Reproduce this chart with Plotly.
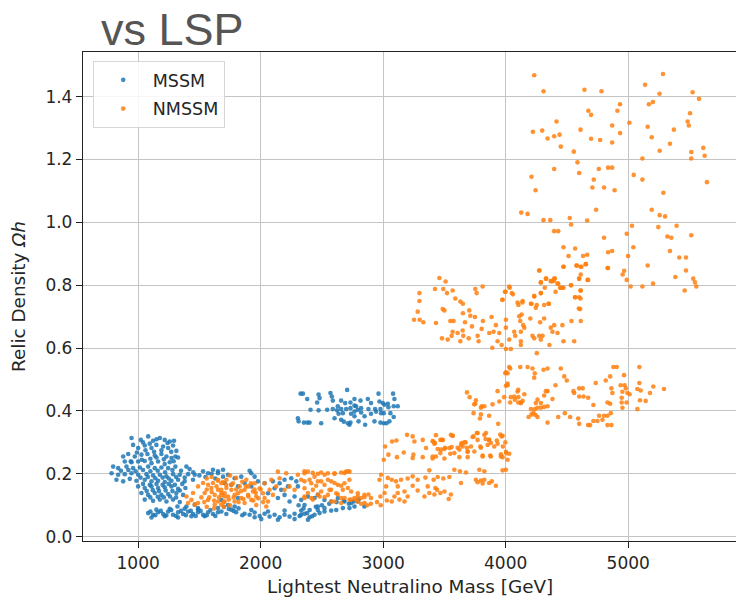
import plotly.graph_objects as go

# ---------------- MSSM scan points: (LSP mass [GeV], relic density) ----------------
mssm_upper_blob = [
    (946, 0.314), (1022, 0.308), (1082, 0.319), (1122, 0.305), (1177, 0.314), (1217, 0.308),
    (1258, 0.303), (1293, 0.305), (959, 0.292), (1000, 0.282), (1054, 0.290), (1109, 0.282),
    (1149, 0.292), (1204, 0.287), (1245, 0.282), (1285, 0.290), (1312, 0.273), (1304, 0.255),
    (878, 0.255), (919, 0.263), (973, 0.255), (1027, 0.261), (1076, 0.263), (1136, 0.258),
    (1190, 0.263), (1231, 0.255), (1272, 0.250), (1326, 0.252), (891, 0.239), (946, 0.237),
    (1000, 0.239), (1054, 0.241), (1109, 0.234), (1163, 0.239), (1217, 0.231), (1258, 0.237),
    (796, 0.223), (837, 0.218), (905, 0.223), (959, 0.218), (1014, 0.220), (1082, 0.223),
    (1136, 0.218), (1190, 0.220), (1245, 0.218), (1304, 0.223), (1394, 0.223), (783, 0.202),
    (837, 0.197), (891, 0.199), (946, 0.202), (1000, 0.197), (1068, 0.199), (1122, 0.195),
    (1177, 0.197), (1231, 0.192), (1285, 0.199), (1340, 0.197), (1408, 0.199), (1462, 0.197),
    (1530, 0.208), (1571, 0.202), (823, 0.181), (878, 0.176), (932, 0.184), (986, 0.178),
    (1054, 0.181), (1109, 0.176), (1163, 0.178), (1217, 0.174), (1272, 0.178), (1326, 0.181),
    (1380, 0.176), (1448, 0.181), (1000, 0.160), (1054, 0.155), (1109, 0.160), (1163, 0.155),
    (1217, 0.157), (1272, 0.160), (1326, 0.152), (1386, 0.155), (1027, 0.139), (1082, 0.133),
    (1136, 0.139), (1190, 0.133), (1245, 0.136), (1312, 0.139), (1367, 0.133), (1054, 0.118),
    (1122, 0.114), (1177, 0.118), (1231, 0.112), (1285, 0.118), (1340, 0.110), (1321, 0.096),
    (1394, 0.096), (1462, 0.102), (1489, 0.091), (1611, 0.213), (1652, 0.208), (1693, 0.213),
    (1040, 0.300), (1095, 0.296), (1150, 0.310), (1240, 0.298), (1270, 0.270), (1190, 0.275),
    (1130, 0.270), (1060, 0.275), (990, 0.268), (940, 0.240), (1030, 0.245), (1100, 0.248),
    (1150, 0.252), (1210, 0.246), (1290, 0.240), (860, 0.210), (920, 0.212), (980, 0.208),
    (1040, 0.212), (1100, 0.208), (1160, 0.210), (1220, 0.205), (1280, 0.212), (1350, 0.210),
    (1420, 0.215), (1020, 0.188), (1080, 0.190), (1140, 0.186), (1200, 0.188), (1250, 0.185),
    (1310, 0.190), (1380, 0.188), (1040, 0.168), (1095, 0.165), (1150, 0.168), (1200, 0.165),
    (1250, 0.168), (1300, 0.165), (1360, 0.168), (1070, 0.145), (1120, 0.148), (1170, 0.145),
    (1225, 0.147), (1280, 0.145), (1340, 0.147), (1100, 0.125), (1160, 0.127), (1210, 0.125),
    (1260, 0.128), (1310, 0.125), (1450, 0.205), (1500, 0.195), (1550, 0.190), (1600, 0.200),
    (1630, 0.185),
]

mssm_low_band = [
    (1082, 0.075), (1122, 0.070), (1163, 0.078), (1204, 0.072), (1245, 0.080), (1285, 0.070),
    (1326, 0.078), (1367, 0.072), (1408, 0.080), (1448, 0.072), (1489, 0.078), (1530, 0.070),
    (1571, 0.078), (1611, 0.072), (1109, 0.061), (1217, 0.065), (1326, 0.061), (1435, 0.065),
    (1543, 0.065), (1652, 0.078), (1149, 0.086), (1258, 0.089), (1380, 0.089), (1489, 0.086),
    (1100, 0.080), (1140, 0.068), (1185, 0.082), (1230, 0.068), (1270, 0.085), (1310, 0.066),
    (1350, 0.082), (1390, 0.068), (1430, 0.082), (1470, 0.066), (1510, 0.082), (1560, 0.068),
    (1590, 0.085), (1630, 0.066), (1680, 0.080), (1720, 0.072), (1760, 0.086), (1800, 0.078),
    (1700, 0.095), (1740, 0.088), (1780, 0.082), (1820, 0.090), (1850, 0.068),
    (1869, 0.073), (1910, 0.070), (1951, 0.077), (1992, 0.066), (2032, 0.073), (2073, 0.064),
    (2114, 0.070), (2155, 0.062), (2195, 0.070), (2236, 0.064), (2277, 0.073), (2318, 0.066),
    (2358, 0.073), (2399, 0.062), (2440, 0.070), (2481, 0.075), (2521, 0.080), (2576, 0.083),
    (2617, 0.085), (2671, 0.091), (2725, 0.091), (2766, 0.096), (1924, 0.085), (2060, 0.080),
    (2195, 0.083), (2331, 0.083), (2467, 0.085), (2005, 0.056), (2141, 0.054), (2277, 0.056),
    (2386, 0.054), (1951, 0.062), (2310, 0.100), (2350, 0.090), (2400, 0.085), (2450, 0.095),
    (2500, 0.100), (2560, 0.105), (2620, 0.110), (2680, 0.115), (2720, 0.105), (2760, 0.112),
    (2800, 0.118), (2330, 0.070), (2380, 0.075), (2420, 0.065),
]

mssm_mid_band = [
    (1652, 0.202), (1693, 0.191), (1734, 0.197), (1788, 0.186), (1842, 0.191), (1910, 0.210),
    (1924, 0.202), (1951, 0.191), (1706, 0.170), (1761, 0.165), (1815, 0.160), (1869, 0.170),
    (1924, 0.160), (1978, 0.176), (2032, 0.170), (2100, 0.176), (2155, 0.170), (2195, 0.181),
    (2223, 0.160), (2168, 0.149), (2250, 0.186), (2291, 0.176), (2304, 0.160), (2195, 0.133),
    (2141, 0.123), (2236, 0.112), (2277, 0.128), (2331, 0.117), (2386, 0.128), (2440, 0.123),
    (2467, 0.133), (2521, 0.117), (2576, 0.112), (2630, 0.123), (2684, 0.112), (2739, 0.107),
    (2793, 0.112), (2847, 0.096), (1679, 0.117), (1734, 0.101), (1788, 0.096), (1652, 0.091),
    (1815, 0.123), (2060, 0.138), (2114, 0.154), (2358, 0.101), (2467, 0.096), (2521, 0.091),
]

mssm_heavy_cluster = [
    (2326, 0.455), (2345, 0.455), (2380, 0.438), (2473, 0.452), (2481, 0.441), (2461, 0.427),
    (2570, 0.457), (2581, 0.446), (2589, 0.433), (2706, 0.467), (2657, 0.433), (2690, 0.425),
    (2733, 0.427), (2766, 0.438), (2815, 0.433), (2875, 0.438), (2901, 0.425), (2962, 0.455),
    (2970, 0.430), (2997, 0.425), (3038, 0.423), (3081, 0.455), (3092, 0.438), (3119, 0.415),
    (3086, 0.415), (3043, 0.412), (3011, 0.420), (3059, 0.393), (3005, 0.393), (2978, 0.406),
    (2934, 0.406), (2880, 0.406), (2820, 0.409), (2766, 0.417), (2733, 0.409), (2698, 0.406),
    (2657, 0.406), (2624, 0.402), (2589, 0.406), (2543, 0.404), (2473, 0.402), (2407, 0.404),
    (2636, 0.391), (2671, 0.393), (2738, 0.391), (2766, 0.383), (2820, 0.395), (2848, 0.383),
    (2901, 0.391), (2942, 0.398), (2983, 0.393), (2304, 0.377), (2310, 0.367), (2353, 0.363),
    (2380, 0.363), (2399, 0.363), (2494, 0.361), (2603, 0.377), (2657, 0.372), (2679, 0.366),
    (2712, 0.361), (2733, 0.363), (2725, 0.356), (2799, 0.367), (2853, 0.356), (2929, 0.367),
    (2978, 0.363), (3005, 0.361), (3027, 0.361), (3051, 0.367), (3086, 0.381), (2766, 0.398),
    (2793, 0.404), (2630, 0.415), (2779, 0.415),
]

# ---------------- NMSSM scan points ----------------
nmssm_light = [
    (1394, 0.128), (1435, 0.117), (1462, 0.102), (1489, 0.107), (1516, 0.125), (1543, 0.139),
    (1571, 0.117), (1598, 0.155), (1625, 0.133), (1652, 0.112), (1679, 0.149), (1706, 0.128),
    (1720, 0.165), (1489, 0.160), (1530, 0.171), (1571, 0.165), (1611, 0.171), (1652, 0.178),
    (1693, 0.174), (1408, 0.107), (1448, 0.139), (1625, 0.102), (1679, 0.102),
    (1560, 0.185), (1600, 0.190), (1750, 0.195), (1800, 0.187), (1850, 0.175), (1900, 0.160),
    (1950, 0.150), (1560, 0.095), (1620, 0.090), (1700, 0.095), (1750, 0.100),
    (1540, 0.110), (1580, 0.125), (1620, 0.115), (1660, 0.125), (1700, 0.110), (1740, 0.118),
    (1780, 0.125), (1820, 0.110), (1860, 0.120), (1900, 0.128), (1940, 0.115), (1980, 0.122),
    (2020, 0.110), (1560, 0.150), (1600, 0.142), (1640, 0.160), (1680, 0.140), (1720, 0.155),
    (1760, 0.165), (1800, 0.150), (1840, 0.145), (1880, 0.160), (1920, 0.170), (1960, 0.140),
    (2000, 0.150),
    (1652, 0.149), (1679, 0.133), (1706, 0.138), (1734, 0.128), (1761, 0.149), (1788, 0.133),
    (1815, 0.138), (1842, 0.123), (1869, 0.149), (1897, 0.133), (1924, 0.117), (1937, 0.144),
    (1964, 0.128), (1992, 0.154), (2019, 0.138), (2032, 0.123), (2060, 0.112), (2073, 0.149),
    (2100, 0.133), (2127, 0.160), (2155, 0.186), (2141, 0.207), (2209, 0.202), (2304, 0.197),
    (2358, 0.202), (2386, 0.207), (2440, 0.191), (2494, 0.204), (2549, 0.202), (2603, 0.202),
    (2657, 0.204), (2698, 0.207), (2725, 0.207), (2331, 0.181), (2413, 0.170), (2467, 0.176),
    (2521, 0.165), (2576, 0.176), (2630, 0.165), (2684, 0.170), (2725, 0.181), (2277, 0.149),
    (2358, 0.154), (2426, 0.149), (2494, 0.144), (2562, 0.149), (2617, 0.138), (2671, 0.149),
    (2739, 0.144), (2793, 0.138), (2847, 0.133), (2358, 0.128), (2413, 0.123), (2481, 0.128),
    (2549, 0.133), (2603, 0.112), (2657, 0.123), (2725, 0.117), (2780, 0.117), (2820, 0.123),
    (2195, 0.149), (2236, 0.160), (1679, 0.170), (1720, 0.181), (1774, 0.170), (1829, 0.160),
    (1883, 0.181), (1951, 0.170), (2032, 0.170), (2087, 0.181), (1652, 0.181), (1706, 0.112),
    (1788, 0.112), (1869, 0.107), (1964, 0.101), (2046, 0.096),
    (2358, 0.208), (2426, 0.203), (2467, 0.200), (2522, 0.197), (2603, 0.200), (2685, 0.203),
    (2712, 0.208), (2358, 0.176), (2399, 0.181), (2453, 0.162), (2494, 0.176), (2549, 0.181),
    (2603, 0.171), (2657, 0.162), (2712, 0.155), (2575, 0.149), (2386, 0.139), (2467, 0.134),
    (2522, 0.126), (2630, 0.134), (2358, 0.123), (2426, 0.118), (2575, 0.112), (2657, 0.107),
    (2793, 0.112), (2848, 0.107),
]

nmssm_mid_band = [
    (3073, 0.303), (3108, 0.306), (3016, 0.287), (3005, 0.245), (3043, 0.261), (3113, 0.253),
    (3195, 0.324), (3241, 0.319), (3255, 0.303), (3323, 0.308), (3410, 0.303), (3423, 0.298),
    (3478, 0.308), (3553, 0.324), (3567, 0.321), (3641, 0.298), (3649, 0.287), (3673, 0.300),
    (3717, 0.287), (3738, 0.319), (3771, 0.330), (3793, 0.287), (3826, 0.324), (3836, 0.311),
    (3865, 0.308), (3879, 0.298), (3907, 0.287), (3928, 0.306), (3967, 0.319), (3977, 0.287),
    (4005, 0.266), (3961, 0.255), (3879, 0.255), (3812, 0.255), (3744, 0.271), (3690, 0.271),
    (3622, 0.277), (3581, 0.266), (3540, 0.282), (3500, 0.279), (3467, 0.266), (3431, 0.255),
    (3404, 0.255), (3350, 0.282), (3323, 0.253), (3241, 0.250), (3247, 0.261), (3168, 0.268),
    (3472, 0.277), (3548, 0.264),
    (3377, 0.211), (3581, 0.213), (3627, 0.208), (3676, 0.204), (3785, 0.213), (3826, 0.208),
    (3975, 0.211), (4002, 0.213), (3757, 0.181), (3798, 0.179), (3826, 0.181), (3865, 0.171),
    (3920, 0.162), (3887, 0.176), (3812, 0.169), (3771, 0.173), (3635, 0.171), (3540, 0.190),
    (3491, 0.185), (3445, 0.190), (3412, 0.181), (3345, 0.188), (3282, 0.181), (3241, 0.192),
    (3200, 0.185), (3146, 0.181), (3105, 0.176), (3038, 0.187), (3070, 0.181), (3119, 0.160),
    (3174, 0.144), (3241, 0.162), (3282, 0.147), (3337, 0.128), (3377, 0.139), (3418, 0.134),
    (3440, 0.149), (3467, 0.139), (3500, 0.144), (3535, 0.120), (3553, 0.134), (3426, 0.155),
    (3364, 0.160), (3200, 0.128), (3092, 0.128), (3070, 0.112), (3119, 0.139), (3133, 0.118),
    (3174, 0.112), (2983, 0.197), (2970, 0.181), (3024, 0.160), (3011, 0.139), (2978, 0.128),
    (2901, 0.123), (2880, 0.134), (2848, 0.126), (2793, 0.128), (2766, 0.123), (2738, 0.118),
    (2685, 0.123), (2900, 0.105), (2950, 0.110), (2980, 0.100), (3030, 0.115), (2870, 0.100),
    (2820, 0.105),
    (3404, 0.304), (3431, 0.323), (3467, 0.308), (3488, 0.308), (3418, 0.296), (3445, 0.279),
    (3505, 0.283), (3567, 0.321), (3559, 0.285), (3608, 0.283), (3635, 0.292), (3663, 0.300),
    (3684, 0.283), (3690, 0.270), (3730, 0.317), (3765, 0.330), (3771, 0.308), (3798, 0.283),
    (3812, 0.258), (3839, 0.330), (3865, 0.308), (3853, 0.292), (3874, 0.258), (3934, 0.296),
    (3956, 0.325), (3975, 0.321), (3961, 0.262), (3975, 0.253), (3997, 0.300), (4002, 0.270),
    (4029, 0.264), (4015, 0.245), (3404, 0.249), (3500, 0.249), (3622, 0.253), (3690, 0.253),
    (3684, 0.459), (3706, 0.444), (3757, 0.434), (3743, 0.421), (3798, 0.410), (3826, 0.415),
    (3893, 0.421), (3934, 0.463), (3948, 0.430), (3988, 0.444), (4015, 0.487), (3738, 0.393),
    (3798, 0.389), (3790, 0.376), (3865, 0.385), (3939, 0.359), (3752, 0.423), (3804, 0.415),
    (4002, 0.523), (4002, 0.480), (4037, 0.535), (4070, 0.446), (4097, 0.462), (4124, 0.425),
]

nmssm_upper_band = [
    (4029, 0.540), (4119, 0.540), (4179, 0.540), (4219, 0.535), (4238, 0.520), (4233, 0.506),
    (4309, 0.531), (4342, 0.535), (4450, 0.535), (4478, 0.510), (4499, 0.497), (4407, 0.482),
    (4328, 0.463), (4342, 0.463), (4314, 0.449), (4382, 0.438), (4260, 0.436), (4246, 0.425),
    (4287, 0.425), (4152, 0.453), (4103, 0.467), (4103, 0.444), (4103, 0.427), (4124, 0.427),
    (4138, 0.432), (4075, 0.436), (4037, 0.427), (4042, 0.444), (4015, 0.482), (4015, 0.520),
    (3997, 0.520), (4206, 0.406), (4238, 0.406), (4260, 0.410), (4287, 0.410), (4314, 0.413),
    (4342, 0.415), (4227, 0.393), (4244, 0.387), (4260, 0.381), (4187, 0.381), (4211, 0.389),
    (4342, 0.363), (4429, 0.381), (4483, 0.393), (4526, 0.381), (4592, 0.376), (4600, 0.359),
    (4673, 0.355), (4689, 0.355), (4716, 0.368), (4749, 0.368), (4763, 0.385), (4790, 0.372),
    (4803, 0.385), (4831, 0.385), (4858, 0.393), (4831, 0.355), (4863, 0.355), (4559, 0.457),
    (4600, 0.446), (4553, 0.463), (4600, 0.472), (4629, 0.472), (4635, 0.446), (4673, 0.442),
    (4716, 0.419), (4735, 0.489), (4817, 0.497), (4853, 0.510), (4863, 0.472), (4871, 0.457),
    (4831, 0.427), (4853, 0.423), (4879, 0.540), (4906, 0.540), (4966, 0.514), (4939, 0.482),
    (4971, 0.482), (4953, 0.461), (4981, 0.472), (4994, 0.457), (5012, 0.453), (4947, 0.442),
    (4947, 0.427), (4987, 0.427), (4953, 0.410), (5091, 0.540), (5091, 0.489), (5075, 0.470),
    (5102, 0.465), (5096, 0.434), (5143, 0.432), (5178, 0.457), (5205, 0.478), (5292, 0.470),
    (5075, 0.406),
]

nmssm_high_band = [
    (3459, 0.823), (3510, 0.812), (3296, 0.775), (3423, 0.788), (3491, 0.788), (3521, 0.775),
    (3567, 0.783), (3589, 0.758), (3630, 0.748), (3752, 0.788), (3763, 0.775), (3812, 0.796),
    (3296, 0.750), (3282, 0.716), (3252, 0.690), (3298, 0.690), (3328, 0.682), (3431, 0.680),
    (3486, 0.724), (3500, 0.720), (3548, 0.686), (3575, 0.686), (3651, 0.741), (3651, 0.711),
    (3703, 0.720), (3711, 0.703), (3749, 0.699), (3668, 0.682), (3725, 0.669), (3814, 0.686),
    (3885, 0.699), (3920, 0.673), (4002, 0.690), (3994, 0.779), (4029, 0.796), (4050, 0.775),
    (3975, 0.754), (3804, 0.661), (3866, 0.648), (3901, 0.652), (3948, 0.648), (4002, 0.665),
    (3649, 0.656), (3698, 0.631), (3654, 0.639), (3771, 0.639), (3779, 0.622), (3567, 0.652),
    (3559, 0.639), (3527, 0.627), (3480, 0.631), (3630, 0.622), (3608, 0.648), (3934, 0.622),
    (3891, 0.601), (3967, 0.610), (4002, 0.597), (4042, 0.597), (4029, 0.627), (4124, 0.652),
    (4124, 0.622), (4124, 0.610), (4070, 0.652), (4078, 0.639), (4111, 0.701), (4119, 0.686),
    (4130, 0.707), (4143, 0.673), (4152, 0.665), (4097, 0.745), (4138, 0.750), (4206, 0.741),
    (4201, 0.694), (4233, 0.764), (4246, 0.728), (4287, 0.775), (4314, 0.737), (4350, 0.741),
    (4219, 0.639), (4233, 0.631), (4273, 0.639), (4287, 0.627), (4301, 0.639), (4368, 0.665),
    (4382, 0.652), (4423, 0.648), (4314, 0.694), (4281, 0.682), (4396, 0.673), (4463, 0.673),
    (4357, 0.610), (4254, 0.584), (4472, 0.622), (4559, 0.622), (4537, 0.686), (4613, 0.686),
    (4608, 0.724), (4600, 0.762), (4567, 0.762), (4613, 0.783), (4444, 0.792), (4463, 0.792),
    (4532, 0.800), (4423, 0.805), (4390, 0.813), (4368, 0.813), (4328, 0.821), (4287, 0.809),
    (4273, 0.847), (4401, 0.821), (4472, 0.859), (4580, 0.863), (4619, 0.859), (4654, 0.867),
    (4613, 0.834), (4668, 0.817), (4600, 0.821), (4831, 0.855),
    (4287, 0.809), (4331, 0.821), (4374, 0.813), (4396, 0.821), (4429, 0.805), (4450, 0.792),
    (4472, 0.792), (4319, 0.792), (4407, 0.779), (4287, 0.775), (4233, 0.766), (4211, 0.741),
    (4254, 0.737), (4352, 0.741), (4000, 0.779), (4032, 0.792), (4059, 0.771), (3972, 0.754),
    (4104, 0.737), (4136, 0.745),
]

nmssm_top = [
    (4233, 1.468), (4309, 1.417), (4643, 1.422), (4782, 1.417), (5138, 1.438), (5284, 1.472),
    (5256, 1.409), (5526, 1.414), (5578, 1.393), (4933, 1.376), (4912, 1.355), (4675, 1.355),
    (4697, 1.342), (4415, 1.321), (4222, 1.288), (4298, 1.292), (4342, 1.267), (4396, 1.274),
    (4440, 1.279), (4450, 1.241), (4556, 1.225), (4611, 1.295), (4697, 1.266), (4771, 1.262),
    (4869, 1.308), (4869, 1.254), (4934, 1.284), (5010, 1.317), (5169, 1.376), (5202, 1.383),
    (5159, 1.304), (5192, 1.271), (5373, 1.295), (5341, 1.250), (5257, 1.228), (5505, 1.347),
    (5485, 1.321), (5495, 1.308), (5515, 1.224), (5613, 1.237), (5624, 1.212), (5116, 1.203),
    (5515, 1.203), (4586, 1.191), (4211, 1.145), (4396, 1.170), (4600, 1.157), (4719, 1.136),
    (4760, 1.170), (4836, 1.174), (4869, 1.174), (5045, 1.151), (5116, 1.136), (4244, 1.102),
    (4708, 1.111), (4803, 1.111), (4889, 1.102), (5643, 1.128), (5287, 1.094), (4127, 1.031),
    (4179, 1.027), (4738, 1.040), (4523, 1.014), (4534, 0.993), (4309, 1.007), (4364, 1.007),
    (4665, 1.006), (5192, 1.040), (5257, 1.023), (5301, 1.019), (5031, 0.989), (5246, 0.985),
    (5395, 0.989), (4396, 0.972), (4429, 0.972), (4988, 0.964), (5320, 0.955), (5352, 0.951),
    (5515, 0.959), (4803, 0.951), (4472, 0.921), (4567, 0.917), (4632, 0.893), (4665, 0.897),
    (4513, 0.893), (4836, 0.905), (4869, 0.909), (5042, 0.921), (4999, 0.893), (5341, 0.909),
    (5417, 0.888), (5472, 0.888), (4472, 0.859), (4578, 0.863), (4611, 0.859), (4654, 0.867),
    (4276, 0.847), (4836, 0.855), (4967, 0.846), (4955, 0.834), (5159, 0.863), (5472, 0.847),
    (5385, 0.826), (5531, 0.821), (5545, 0.809), (5556, 0.796), (5461, 0.783), (5203, 0.805),
    (5116, 0.796), (5020, 0.796), (4988, 0.817), (4600, 0.821), (4673, 0.817), (4534, 0.800),
    (4611, 0.783), (4611, 0.758), (4567, 0.762), (4597, 0.726),
]

mssm = mssm_upper_blob + mssm_low_band + mssm_mid_band + mssm_heavy_cluster
nmssm = nmssm_light + nmssm_mid_band + nmssm_upper_band + nmssm_high_band + nmssm_top

BLUE = "#1f77b4"
ORANGE = "#ff7f0e"
FONT = "DejaVu Sans"

fig = go.Figure()
fig.add_trace(go.Scatter(
    x=[p[0] for p in mssm], y=[p[1] for p in mssm], mode="markers", name="MSSM",
    legendgroup="mssm",
    marker=dict(color=BLUE, size=4.6, opacity=0.85, line=dict(width=0)),
))
fig.add_trace(go.Scatter(
    x=[p[0] for p in nmssm], y=[p[1] for p in nmssm], mode="markers", name="NMSSM",
    legendgroup="nmssm",
    marker=dict(color=ORANGE, size=4.6, opacity=0.85, line=dict(width=0)),
))

axis_common = dict(
    showgrid=True, gridcolor="#c4c4c4", gridwidth=1.3,
    zeroline=False, showline=True, linecolor="#222222", linewidth=1.3,
    ticks="outside", ticklen=6, tickwidth=1.3, tickcolor="#222222",
    tickfont=dict(family=FONT, size=17, color="#262626"),
)

fig.update_layout(
    width=736, height=597,
    margin=dict(l=83, r=0, t=52, b=56),
    paper_bgcolor="white", plot_bgcolor="white",
    showlegend=True,
    legend=dict(
        x=0.0149, y=0.9816, xanchor="left", yanchor="top",
        bgcolor="rgba(255,255,255,0.85)", bordercolor="#d6d6d6", borderwidth=1,
        font=dict(family=FONT, size=17.5, color="#262626"),
        tracegroupgap=3, itemwidth=49,
    ),
    xaxis=dict(range=[550, 5880], tickvals=[1000, 2000, 3000, 4000, 5000], mirror=True,
               **axis_common),
    yaxis=dict(range=[-0.0137, 1.542], tickvals=[0.0, 0.2, 0.4, 0.6, 0.8, 1.0, 1.2, 1.4],
               tickformat=".1f", mirror=False, **axis_common),
    annotations=[
        dict(text="vs LSP", xref="paper", yref="paper", x=(99 - 83) / 653, y=1.045,
             xanchor="left", yanchor="middle", showarrow=False,
             font=dict(family="Liberation Sans", size=45, color="#555555")),
        dict(text="Lightest Neutralino Mass [GeV]", xref="paper", yref="paper",
             x=(410 - 83) / 653, y=(541 - 586) / 489, xanchor="center", yanchor="middle",
             showarrow=False, font=dict(family=FONT, size=18.4, color="#262626")),
        dict(text="Relic Density <i>Ωh</i>", xref="paper", yref="paper",
             x=(18 - 83) / 653, y=(541 - 297) / 489, xanchor="center", yanchor="middle",
             textangle=-90, showarrow=False,
             font=dict(family=FONT, size=18.4, color="#262626")),
    ],
)

fig.write_html("out.html")
